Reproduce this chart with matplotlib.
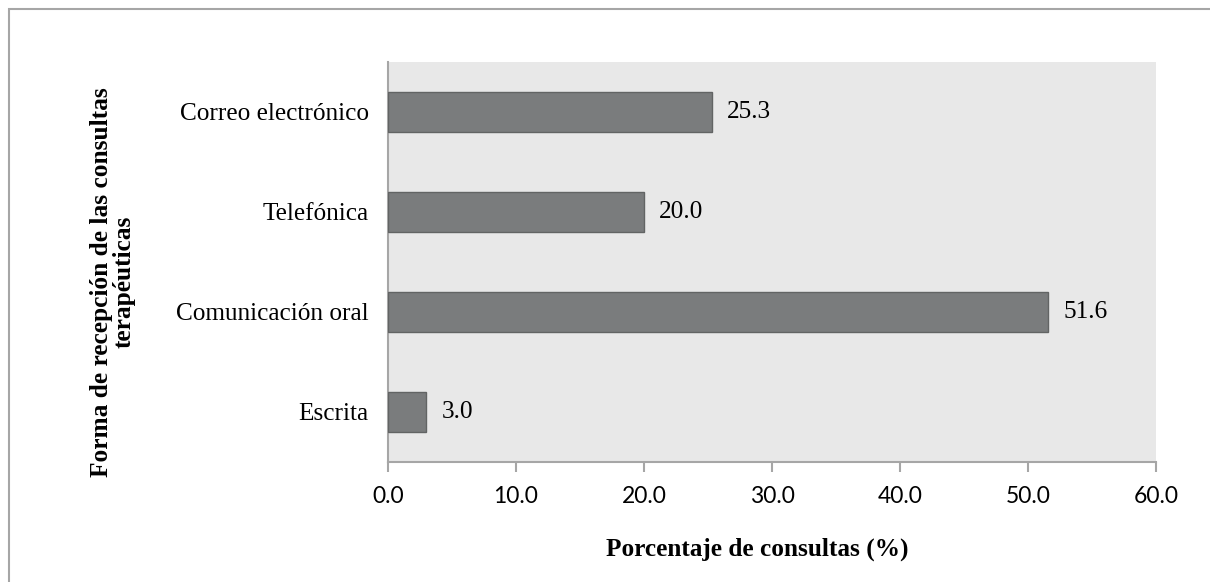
import matplotlib.pyplot as plt
from matplotlib.patches import Rectangle

# forma de recepción de las consultas (de abajo hacia arriba)
categorias = ["Escrita", "Comunicación oral", "Telefónica", "Correo electrónico"]
porcentajes = [3.0, 51.6, 20.0, 25.3]
ticks_x = [0, 10, 20, 30, 40, 50, 60]

fig = plt.figure(figsize=(12.1, 5.82), dpi=100)
ax = fig.add_axes([388 / 1210, 1 - 462 / 582, 768 / 1210, 400 / 582])

ax.set_facecolor("#e8e8e8")
ax.barh(range(len(categorias)), porcentajes, height=0.4,
        color="#7a7c7d", edgecolor="#626464", linewidth=1.0, zorder=3)

for i, v in enumerate(porcentajes):
    ax.text(v + 1.2, i, f"{v:.1f}", va="center", ha="left",
            fontsize=18.3, family="Liberation Serif", color="black")

ax.set_xlim(0, 60)
ax.set_ylim(-0.5, 3.5)
ax.set_xticks(ticks_x)
ax.set_xticklabels([f"{t:.1f}" for t in ticks_x], family="Lato", fontsize=16.5)
ax.set_yticks(range(len(categorias)))
ax.set_yticklabels(categorias, family="Liberation Serif", fontsize=18.2)

ax.tick_params(axis="x", length=7, width=1.5, color="#a6a6a6", pad=10)
ax.tick_params(axis="y", length=0, pad=14)

for lado in ["top", "right"]:
    ax.spines[lado].set_visible(False)
for lado in ["left", "bottom"]:
    ax.spines[lado].set_color("#a6a6a6")
    ax.spines[lado].set_linewidth(1.5)

fig.text(757 / 1210, 1 - 549 / 582, "Porcentaje de consultas (%)",
         ha="center", va="center", family="Liberation Serif",
         fontsize=18.2, fontweight="bold")
fig.text(113 / 1210, 1 - 282 / 582,
         "Forma de recepción de las consultas\nterapéuticas",
         rotation=90, ha="center", va="center", multialignment="center",
         family="Liberation Serif", fontsize=18.3, fontweight="bold",
         linespacing=0.95)

# marco exterior: solo se ven los bordes superior e izquierdo
fig.patches.append(Rectangle((9 / 1210, -0.05), 1.1, 1.05 - 9 / 582,
                             transform=fig.transFigure, fill=False,
                             edgecolor="#a6a6a6", linewidth=1.5))

fig.savefig("out.png", dpi=100)
